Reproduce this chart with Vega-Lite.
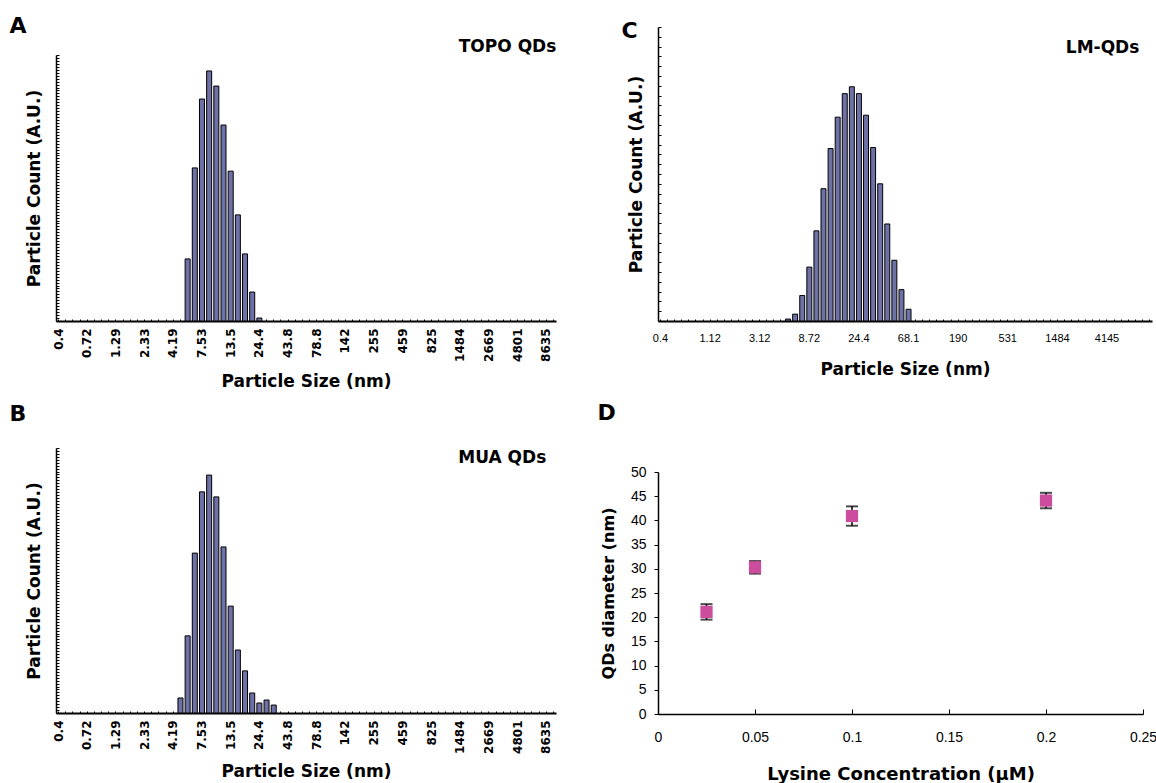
{
  "$schema": "https://vega.github.io/schema/vega-lite/v6.json",
  "padding": {"left": 9, "top": 15, "right": 0, "bottom": 0},
  "background": "white",
  "spacing": 38,
  "datasets": {
    "A": [
      {"size": "5.62", "count": 21}, {"size": "6.5", "count": 51.8}, {"size": "7.53", "count": 75.1},
      {"size": "8.72", "count": 84.6}, {"size": "10.1", "count": 79.5}, {"size": "11.7", "count": 66.3},
      {"size": "13.5", "count": 50.7}, {"size": "15.7", "count": 35.9}, {"size": "18.2", "count": 22.7},
      {"size": "21", "count": 9.8}, {"size": "24.4", "count": 1}
    ],
    "B": [
      {"size": "4.85", "count": 5.1}, {"size": "5.62", "count": 26.2}, {"size": "6.5", "count": 54.3},
      {"size": "7.53", "count": 75.1}, {"size": "8.72", "count": 80.8}, {"size": "10.1", "count": 73.4},
      {"size": "11.7", "count": 56.4}, {"size": "13.5", "count": 36.3}, {"size": "15.7", "count": 21.4},
      {"size": "18.2", "count": 14.3}, {"size": "21", "count": 6.8}, {"size": "24.4", "count": 3.4},
      {"size": "28.2", "count": 4.4}, {"size": "32.7", "count": 2.7}
    ],
    "C": [
      {"size": "5.62", "count": 0.2}, {"size": "6.5", "count": 0.7}, {"size": "7.53", "count": 2.6},
      {"size": "8.72", "count": 5.5}, {"size": "10.1", "count": 9.2}, {"size": "11.7", "count": 13.5},
      {"size": "13.5", "count": 17.6}, {"size": "15.7", "count": 20.8}, {"size": "18.2", "count": 23.2},
      {"size": "21", "count": 23.9}, {"size": "24.4", "count": 23.2}, {"size": "28.2", "count": 21},
      {"size": "32.7", "count": 17.7}, {"size": "37.8", "count": 14}, {"size": "43.8", "count": 9.9},
      {"size": "50.8", "count": 6.2}, {"size": "58.8", "count": 3.2}, {"size": "68.1", "count": 1.2}
    ],
    "D": [
      {"conc": 0.025, "diameter": 21.1, "err": 1.6},
      {"conc": 0.05, "diameter": 30.3, "err": 1.3},
      {"conc": 0.1, "diameter": 40.9, "err": 2.0},
      {"conc": 0.2, "diameter": 44.1, "err": 1.6}
    ]
  },
  "hconcat": [
    {
      "spacing": 12,
      "vconcat": [
        {
          "width": 500, "height": 294,
          "title": {"text": "A", "offset": -11, "dx": -16},
          "layer": [
            {
              "data": {"name": "A"},
              "mark": {"type": "bar", "fill": "#6e71a6", "stroke": "#000", "strokeWidth": 1},
              "encoding": {
                "x": {"field": "size", "type": "ordinal", "sort": null,
                  "scale": {"domain": ["0.4","0.463","0.537","0.621","0.72","0.833","0.965","1.12","1.29","1.5","1.74","2.01","2.33","2.7","3.12","3.62","4.19","4.85","5.62","6.5","7.53","8.72","10.1","11.7","13.5","15.7","18.2","21","24.4","28.2","32.7","37.8","43.8","50.8","58.8","68.1","78.8","91.3","106","122","142","164","190","220","255","295","342","396","459","531","615","712","825","955","1106","1281","1484","1718","1990","2305","2669","3091","3580","4145","4801","5560","6439","7456","8635","10000"], "paddingInner": 0.3, "paddingOuter": 0},
                  "axis": {"title": "Particle Size (nm)", "labelAngle": -90, "labelOverlap": false,
                    "labelExpr": "indexof(['0.4','0.72','1.29','2.33','4.19','7.53','13.5','24.4','43.8','78.8','142','255','459','825','1484','2669','4801','8635'], datum.value) >= 0 ? datum.value : ''",
                    "labelFontSize": 12, "labelFontWeight": "bold", "labelPadding": 9, "tickSize": -2, "domainWidth": 2,
                    "titleFontSize": 17, "titlePadding": 12}},
                "y": {"field": "count", "type": "quantitative", "scale": {"domain": [0, 90], "nice": false, "range": [294, 28]},
                  "axis": {"title": "Particle Count (A.U.)", "labels": false, "tickCount": 90, "tickSize": -3, "domainWidth": 1.5, "titleFontSize": 17, "titlePadding": 12}}
              }
            },
            {
              "data": {"values": [{"label": "TOPO QDs"}]},
              "mark": {"type": "text", "align": "right", "baseline": "middle", "dx": 10, "font": "DejaVu Sans", "fontWeight": "bold", "fontSize": 17, "color": "#000"},
              "encoding": {"x": {"datum": "8635"}, "y": {"datum": 92.7}, "text": {"field": "label"}}
            }
          ]
        },
        {
          "width": 500, "height": 265,
          "title": {"text": "B", "offset": 22, "dx": -16},
          "layer": [
            {
              "data": {"name": "B"},
              "mark": {"type": "bar", "fill": "#6e71a6", "stroke": "#000", "strokeWidth": 1},
              "encoding": {
                "x": {"field": "size", "type": "ordinal", "sort": null,
                  "scale": {"domain": ["0.4","0.463","0.537","0.621","0.72","0.833","0.965","1.12","1.29","1.5","1.74","2.01","2.33","2.7","3.12","3.62","4.19","4.85","5.62","6.5","7.53","8.72","10.1","11.7","13.5","15.7","18.2","21","24.4","28.2","32.7","37.8","43.8","50.8","58.8","68.1","78.8","91.3","106","122","142","164","190","220","255","295","342","396","459","531","615","712","825","955","1106","1281","1484","1718","1990","2305","2669","3091","3580","4145","4801","5560","6439","7456","8635","10000"], "paddingInner": 0.3, "paddingOuter": 0},
                  "axis": {"title": "Particle Size (nm)", "labelAngle": -90, "labelOverlap": false,
                    "labelExpr": "indexof(['0.4','0.72','1.29','2.33','4.19','7.53','13.5','24.4','43.8','78.8','142','255','459','825','1484','2669','4801','8635'], datum.value) >= 0 ? datum.value : ''",
                    "labelFontSize": 12, "labelFontWeight": "bold", "labelPadding": 9, "tickSize": -2, "domainWidth": 2,
                    "titleFontSize": 17, "titlePadding": 10}},
                "y": {"field": "count", "type": "quantitative", "scale": {"domain": [0, 90], "nice": false},
                  "axis": {"title": "Particle Count (A.U.)", "labels": false, "tickCount": 90, "tickSize": -3, "domainWidth": 1.5, "titleFontSize": 17, "titlePadding": 12}}
              }
            },
            {
              "data": {"values": [{"label": "MUA QDs"}]},
              "mark": {"type": "text", "align": "right", "baseline": "middle", "font": "DejaVu Sans", "fontWeight": "bold", "fontSize": 17, "color": "#000"},
              "encoding": {"x": {"datum": "8635"}, "y": {"datum": 86.6}, "text": {"field": "label"}}
            }
          ]
        }
      ]
    },
    {
      "spacing": 25,
      "vconcat": [
        {
          "width": 494, "height": 294,
          "title": {"text": "C", "offset": -16, "dx": -6},
          "layer": [
            {
              "data": {"name": "C"},
              "mark": {"type": "bar", "fill": "#6e71a6", "stroke": "#000", "strokeWidth": 1},
              "encoding": {
                "x": {"field": "size", "type": "ordinal", "sort": null,
                  "scale": {"domain": ["0.4","0.463","0.537","0.621","0.72","0.833","0.965","1.12","1.29","1.5","1.74","2.01","2.33","2.7","3.12","3.62","4.19","4.85","5.62","6.5","7.53","8.72","10.1","11.7","13.5","15.7","18.2","21","24.4","28.2","32.7","37.8","43.8","50.8","58.8","68.1","78.8","91.3","106","122","142","164","190","220","255","295","342","396","459","531","615","712","825","955","1106","1281","1484","1718","1990","2305","2669","3091","3580","4145","4801","5560","6439","7456","8635","10000"], "paddingInner": 0.3, "paddingOuter": 0},
                  "axis": {"title": "Particle Size (nm)", "labelAngle": 0, "labelOverlap": false,
                    "labelExpr": "indexof(['0.4','1.12','3.12','8.72','24.4','68.1','190','531','1484','4145'], datum.value) >= 0 ? datum.value : ''",
                    "labelFont": "Liberation Sans", "labelFontSize": 11, "labelPadding": 13, "tickSize": -2, "domainWidth": 2,
                    "titleFontSize": 17, "titlePadding": 18}},
                "y": {"field": "count", "type": "quantitative", "scale": {"domain": [0, 30], "nice": false},
                  "axis": {"title": "Particle Count (A.U.)", "labels": false, "tickCount": 30, "tickSize": -3, "domainWidth": 1.5, "titleFontSize": 17, "titlePadding": 12}}
              }
            },
            {
              "data": {"values": [{"label": "LM-QDs"}]},
              "mark": {"type": "text", "align": "right", "baseline": "middle", "dx": 4, "font": "DejaVu Sans", "fontWeight": "bold", "fontSize": 17, "color": "#000"},
              "encoding": {"x": {"datum": "7456"}, "y": {"datum": 27.9}, "text": {"field": "label"}}
            }
          ]
        },
        {
          "width": 485, "height": 242,
          "title": {"text": "D", "offset": 40, "dx": -3},
          "data": {"name": "D"},
          "encoding": {
            "x": {"field": "conc", "type": "quantitative", "scale": {"domain": [0, 0.25], "nice": false},
              "axis": {"title": "Lysine Concentration (µM)", "values": [0, 0.05, 0.1, 0.15, 0.2, 0.25], "format": "~g", "labelOverlap": false, "labelFlush": false,
                "labelFont": "Liberation Sans", "labelFontSize": 14, "labelPadding": 21, "tickSize": -5, "domainWidth": 1.5,
                "titleFontSize": 18, "titlePadding": 21}},
            "y": {"field": "diameter", "type": "quantitative", "scale": {"domain": [0, 50], "nice": false},
              "axis": {"title": "QDs diameter (nm)", "values": [0, 5, 10, 15, 20, 25, 30, 35, 40, 45, 50], "labelOverlap": false,
                "labelFont": "Liberation Sans", "labelFontSize": 14, "labelPadding": 8, "tickSize": 4, "domainWidth": 1.5,
                "titleFontSize": 16, "titlePadding": 14}}
          },
          "layer": [
            {
              "mark": {"type": "errorbar", "color": "#000", "ticks": {"size": 12, "thickness": 2, "color": "#000"}, "rule": {"strokeWidth": 1.5}},
              "encoding": {"yError": {"field": "err"}}
            },
            {
              "mark": {"type": "point", "shape": "square", "filled": true, "size": 150, "color": "#cc4c9e", "opacity": 1}
            }
          ]
        }
      ]
    }
  ],
  "config": {
    "view": {"stroke": null},
    "axis": {"grid": false, "domainColor": "#000", "tickColor": "#000", "labelColor": "#000", "titleColor": "#000",
      "titleFont": "DejaVu Sans", "titleFontWeight": "bold", "labelFont": "DejaVu Sans"},
    "title": {"font": "DejaVu Sans", "fontWeight": "bold", "fontSize": 22, "anchor": "start", "frame": "bounds", "color": "#000", "baseline": "bottom"}
  }
}
